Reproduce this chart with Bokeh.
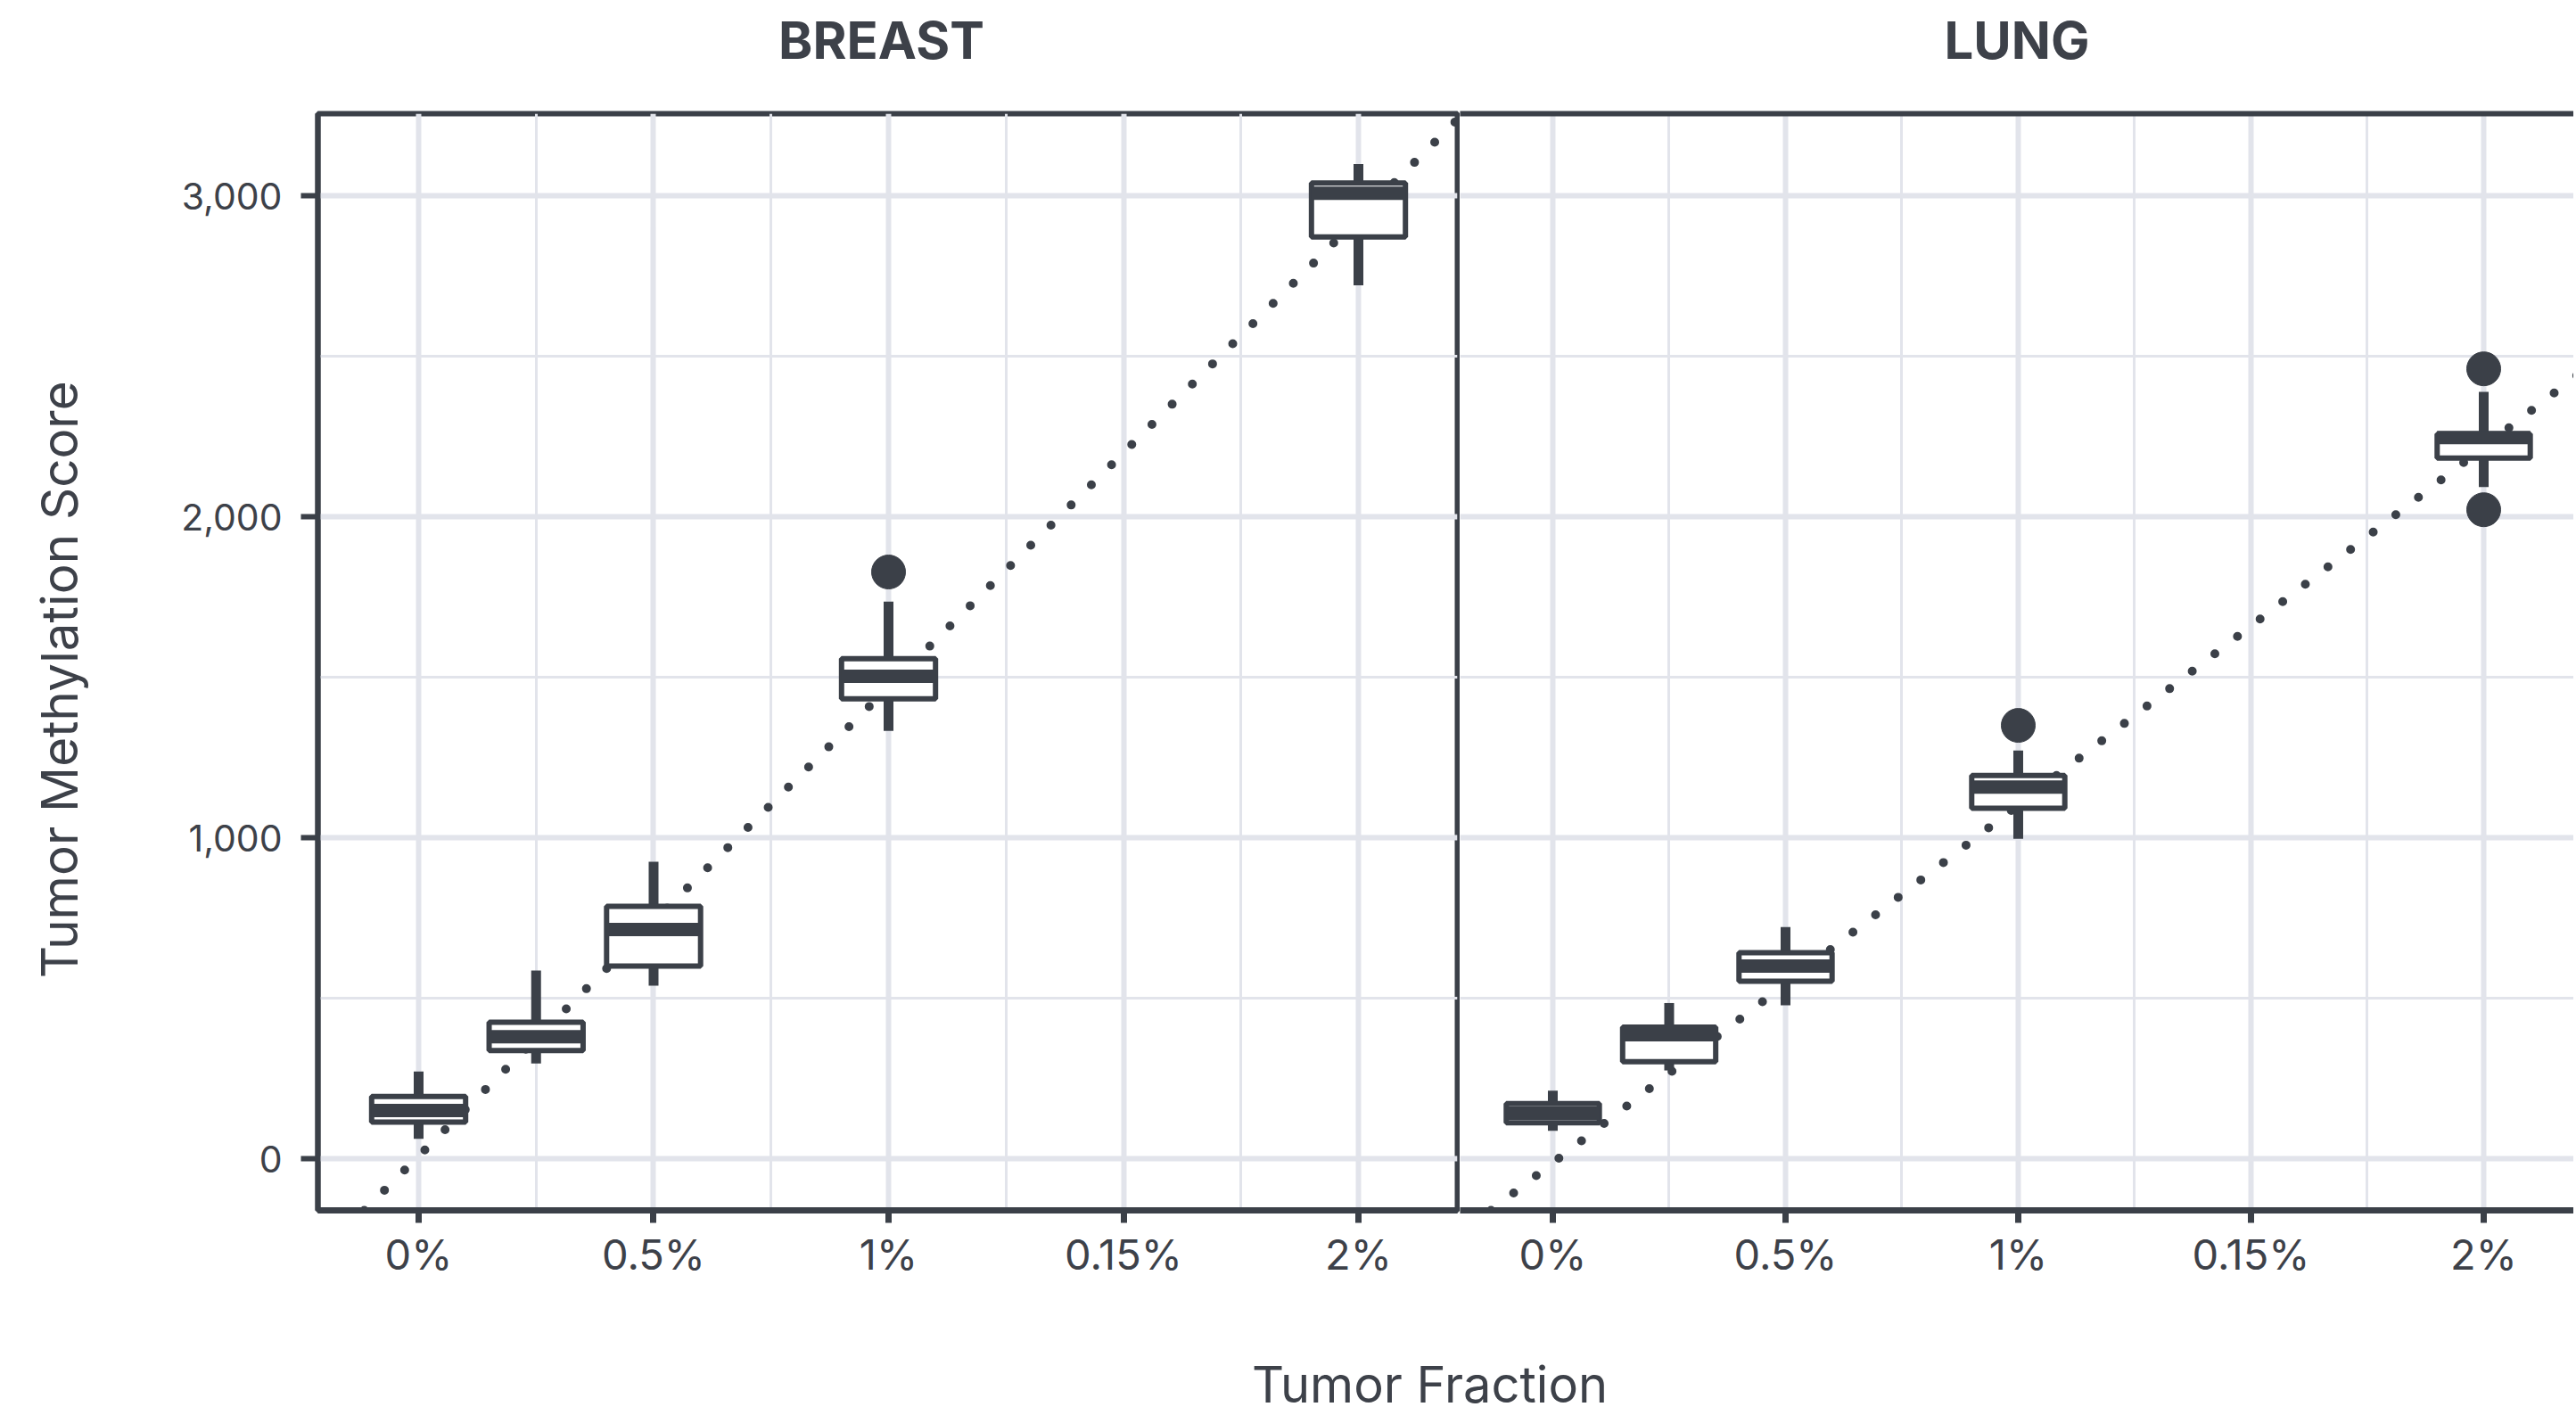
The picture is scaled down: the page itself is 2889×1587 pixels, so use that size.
import math
from bokeh.plotting import figure
from bokeh.models import (Range1d, FixedTicker, NumeralTickFormatter, LinearAxis,
                          Slope, Label)
from bokeh.layouts import row, column
from bokeh.embed import file_html
from bokeh.resources import INLINE

# ---------------- data ----------------
panel_titles = ["BREAST", "LUNG"]
fractions = [0, 0.25, 0.5, 1, 2]            # tumor fraction (%) of each box
x_tick_values = [0, 0.5, 1, 1.5, 2]
x_tick_labels = ["0%", "0.5%", "1%", "0.15%", "2%"]
x_minor_values = [0.25, 0.75, 1.25, 1.75]
y_tick_values = [0, 1000, 2000, 3000]
y_minor_values = [500, 1500, 2500]

breast_lower = [62, 297, 539, 1333, 2721]
breast_q1 = [114, 337, 600, 1433, 2872]
breast_median = [150, 380, 714, 1503, 3008]
breast_q3 = [194, 425, 786, 1558, 3040]
breast_upper = [272, 586, 925, 1736, 3099]
breast_out_x = [1]
breast_out_y = [1828]
breast_fit = (1461, 8)     # slope, intercept

lung_lower = [87, 275, 478, 997, 2093]
lung_q1 = [112, 302, 553, 1092, 2183]
lung_median = [142, 386, 600, 1158, 2247]
lung_q3 = [172, 410, 642, 1194, 2258]
lung_upper = [212, 485, 722, 1272, 2389]
lung_out_x = [1, 2, 2]
lung_out_y = [1350, 2461, 2022]
lung_fit = (1115, -13)

# ---------------- style / layout ----------------
DARK = "#3b4048"
TEXT = "#3d4149"
GRID = "#e2e4eb"
FONT = "Inter"
BOX_W = 0.2

Y_RANGE = (-161, 3256)
TOTAL_W = 2886
H_TOP = 90          # strip holding the panel titles
H = 1370            # panels
H3 = 127            # strip holding the x title
TOP = 127 - H_TOP
BOTTOM = 103
W0 = 110            # strip holding the y title
SPLIT = 1637        # x where the lung panel starts


def style_common(p):
    p.background_fill_color = "white"
    p.border_fill_color = "white"
    for g in (p.xgrid, p.ygrid):
        g.grid_line_color = GRID
        g.grid_line_width = 6
        g.minor_grid_line_color = GRID
        g.minor_grid_line_width = 3
    p.xgrid.ticker = FixedTicker(ticks=x_tick_values, minor_ticks=x_minor_values)
    p.ygrid.ticker = FixedTicker(ticks=y_tick_values, minor_ticks=y_minor_values)

    xa = p.xaxis[0]
    xa.ticker = FixedTicker(ticks=x_tick_values, minor_ticks=x_minor_values)
    xa.major_label_overrides = {v: l for v, l in zip(x_tick_values, x_tick_labels)}
    xa.axis_line_color = DARK
    xa.axis_line_width = 7
    xa.major_tick_line_color = DARK
    xa.major_tick_line_width = 7
    xa.major_tick_in = 0
    xa.major_tick_out = 14
    xa.minor_tick_line_color = None
    xa.major_label_text_font = FONT
    xa.major_label_text_font_size = "47px"
    xa.major_label_text_color = TEXT
    xa.major_label_standoff = 6


def draw_boxes(p, lower, q1, med, q3, upper, out_x, out_y, fit):
    p.add_layout(Slope(gradient=fit[0], y_intercept=fit[1], line_color=DARK,
                       line_width=10, line_dash="0 32", line_cap="round",
                       level="underlay"))
    p.segment(x0=fractions, y0=lower, x1=fractions, y1=upper,
              line_color=DARK, line_width=11, line_cap="butt")
    p.quad(left=[x - BOX_W / 2 for x in fractions], right=[x + BOX_W / 2 for x in fractions],
           bottom=q1, top=q3, fill_color="white", line_color=DARK, line_width=6)
    p.segment(x0=[x - BOX_W / 2 for x in fractions], y0=med,
              x1=[x + BOX_W / 2 for x in fractions], y1=med,
              line_color=DARK, line_width=15, line_cap="butt")
    p.scatter(x=out_x, y=out_y, size=38, fill_color=DARK, line_color=DARK)


def blank_panel(w, h):
    p = figure(width=w, height=h, x_range=Range1d(0, w), y_range=Range1d(0, h),
               x_axis_location=None, y_axis_location=None, output_backend="svg",
               toolbar_location=None, min_border=0, title=None)
    p.outline_line_color = None
    p.grid.visible = False
    p.background_fill_color = "white"
    p.border_fill_color = "white"
    return p


# ---------------- panel titles strip ----------------
pt = blank_panel(TOTAL_W, H_TOP)
title_centers = [988, (SPLIT + TOTAL_W) / 2]
for t, cx in zip(panel_titles, title_centers):
    pt.add_layout(Label(x=cx, y=H_TOP - 44, text=t, text_font=FONT,
                        text_font_size="58px", text_font_style="bold",
                        text_color=TEXT, text_align="center", text_baseline="middle"))

# ---------------- y title strip ----------------
p0 = blank_panel(W0, H)
p0.add_layout(Label(x=66, y=290, text="Tumor Methylation Score",
                    text_font=FONT, text_font_size="56.5px", text_color=TEXT,
                    text_align="left", text_baseline="middle", angle=math.pi / 2))

# ---------------- breast panel ----------------
p1 = figure(width=SPLIT - W0, height=H, x_range=Range1d(-0.2144, 2.2106),
            y_range=Range1d(*Y_RANGE), title=None, output_backend="svg",
            toolbar_location=None, min_border_left=356 - W0, min_border_right=3,
            min_border_top=TOP, min_border_bottom=BOTTOM)
style_common(p1)
p1.outline_line_color = DARK
p1.outline_line_width = 6
p1.outline_line_alpha = 1.0
ya = p1.yaxis[0]
ya.ticker = FixedTicker(ticks=y_tick_values, minor_ticks=y_minor_values)
ya.formatter = NumeralTickFormatter(format="0,0")
ya.axis_line_color = DARK
ya.axis_line_width = 6
ya.major_tick_line_color = DARK
ya.major_tick_line_width = 6
ya.major_tick_in = 0
ya.major_tick_out = 19
ya.minor_tick_line_color = None
ya.major_label_text_font = FONT
ya.major_label_text_font_size = "41px"
ya.major_label_text_color = TEXT
ya.major_label_standoff = 21
draw_boxes(p1, breast_lower, breast_q1, breast_median, breast_q3, breast_upper,
           breast_out_x, breast_out_y, breast_fit)

# ---------------- lung panel ----------------
W2 = TOTAL_W - SPLIT
p2 = figure(width=W2, height=H, x_range=Range1d(-0.1992, 2.1935),
            y_range=Range1d(*Y_RANGE), title=None, output_backend="svg",
            toolbar_location=None, y_axis_location=None, min_border_left=0,
            min_border_right=0, min_border_top=TOP, min_border_bottom=BOTTOM)
style_common(p2)
p2.outline_line_color = None
top_axis = LinearAxis(ticker=FixedTicker(ticks=[]), axis_line_color=DARK,
                      axis_line_width=6, major_tick_in=0, major_tick_out=0,
                      major_label_standoff=0, minor_tick_line_color=None,
                      major_tick_line_color=None)
p2.add_layout(top_axis, "above")
draw_boxes(p2, lung_lower, lung_q1, lung_median, lung_q3, lung_upper,
           lung_out_x, lung_out_y, lung_fit)

# ---------------- shared x title ----------------
p3 = blank_panel(TOTAL_W, H3)
p3.add_layout(Label(x=1603, y=H3 - (1552 - H_TOP - H), text="Tumor Fraction",
                    text_font=FONT, text_font_size="56px", text_color=TEXT,
                    text_align="center", text_baseline="middle"))

layout = column(pt, row(p0, p1, p2), p3)
open("out.html", "w").write(file_html(layout, INLINE))
